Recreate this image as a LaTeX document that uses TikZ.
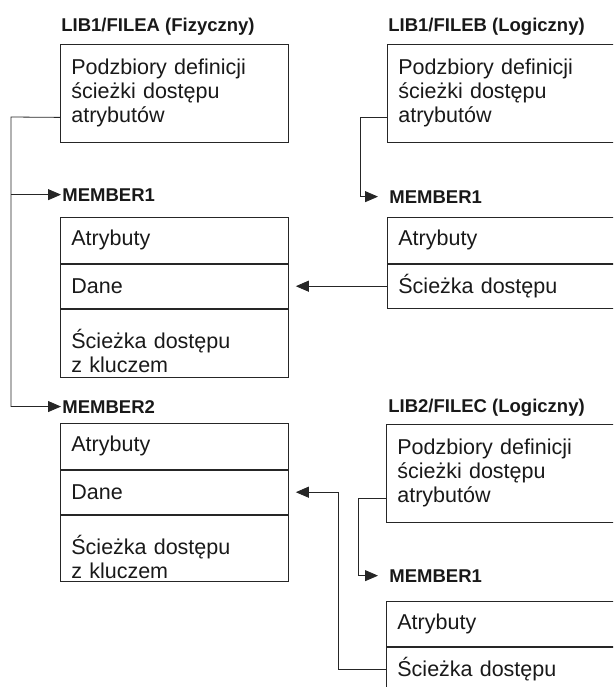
\documentclass[tikz,border=0pt]{standalone}
\usepackage{fontspec}
\setmainfont{Liberation Sans}
\usetikzlibrary{positioning, arrows.meta}
\tikzset{
    every picture/.style={line width=0.8pt, draw=black!85, text=black!90},
    box/.style={draw, rectangle, anchor=north west, minimum width=228pt, text width=206pt,
        inner xsep=11pt, align=left, font=\fontsize{21.5}{24}\selectfont}, % every framed box
    defbox/.style={box, minimum height=98pt}, % the access path definition boxes
    row/.style={box, minimum height=#1}, % one part of a member
    libname/.style={anchor=base west, inner sep=0pt, font=\bfseries\fontsize{18.5}{20}\selectfont}, % file and member names
    link/.style={-{Triangle[length=13pt, width=11pt]}}, % connectors
}

\begin{document}
\begin{tikzpicture}[x=1pt, y=-1pt]
    \clip (0,0) rectangle (613,687);

    % LIB1/FILEA, the physical file
    \node[libname] (fa) at (61,32) {LIB1/FILEA (Fizyczny)};
    \node[defbox] (fadef) at (60,44) {Podzbiory definicji\\ścieżki dostępu\\atrybutów};

    \node[libname] (fam1) at (62,201) {MEMBER1};
    \node[row=46pt] (m1attr) at (60,217) {Atrybuty};
    \node[row=44pt, below=0pt of m1attr] (m1data) {Dane};
    \node[row=68pt, below=0pt of m1data] (m1key) {\rule{0pt}{36pt}Ścieżka dostępu\\z kluczem};

    \node[libname] (fam2) at (62,413) {MEMBER2};
    \node[row=46pt] (m2attr) at (60,423) {Atrybuty};
    \node[row=44pt, below=0pt of m2attr] (m2data) {Dane};
    \node[row=66pt, below=0pt of m2data] (m2key) {\rule{0pt}{36pt}Ścieżka dostępu\\z kluczem};

    % LIB1/FILEB, logical
    \node[libname] (fb) at (388,32) {LIB1/FILEB (Logiczny)};
    \node[defbox] (fbdef) at (387,44) {Podzbiory definicji\\ścieżki dostępu\\atrybutów};

    \node[libname] (fbm1) at (389,203) {MEMBER1};
    \node[row=46pt] (bm1attr) at (387,217) {Atrybuty};
    \node[row=44pt, below=0pt of bm1attr] (bm1path) {Ścieżka dostępu};

    % LIB2/FILEC, logical
    \node[libname] (fc) at (388,412) {LIB2/FILEC (Logiczny)};
    \node[defbox] (fcdef) at (386,424) {Podzbiory definicji\\ścieżki dostępu\\atrybutów};

    \node[libname] (fcm1) at (389,582) {MEMBER1};
    \node[row=45pt] (cm1attr) at (386,601) {Atrybuty};
    \node[row=44pt, below=0pt of cm1attr] (cm1path) {Ścieżka dostępu};

    % connectors
    \coordinate (lspine) at (11,117);
    \draw[link, shorten >=1pt] ([yshift=-24pt]fadef.west) -- (lspine) |- (fam2.west);
    \draw[link, shorten >=1pt] (lspine |- fam1.west) -- (fam1.west);

    \draw[link, shorten >=11pt] ([yshift=-24pt]fbdef.west) -- ++(-27,0) |- (fbm1.west);
    \draw[link, shorten >=11pt] ([yshift=-25pt]fcdef.west) -- ++(-28,0) |- (fcm1.west);

    \draw[link] (bm1path.west) -- ([xshift=7pt]m1data.east);
    \draw[link] (cm1path.west) -- ++(-48,0) |- ([xshift=7pt]m2data.east);
\end{tikzpicture}
\end{document}
